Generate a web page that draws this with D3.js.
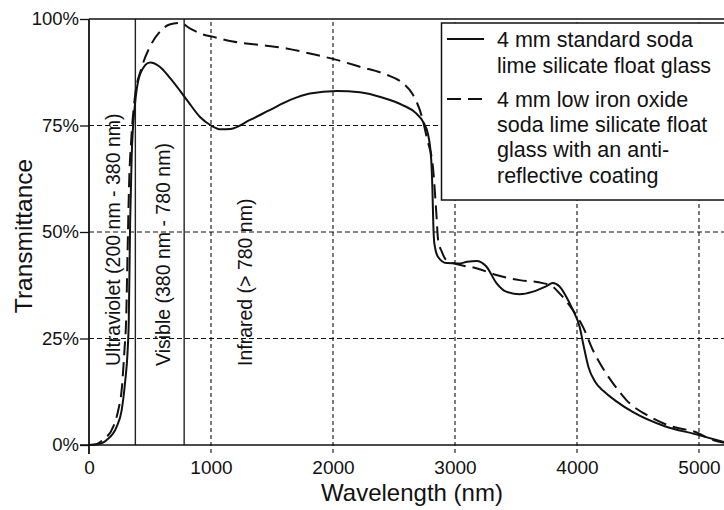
<!DOCTYPE html>
<html>
<head>
<meta charset="utf-8">
<script src="https://cdn.jsdelivr.net/npm/d3@7/dist/d3.min.js"></script>
<style>
  html, body { margin: 0; padding: 0; background: #fff; }
  svg { display: block; font-family: "Liberation Sans", Arial, Helvetica, sans-serif; }
</style>
</head>
<body>
<svg id="chart" width="724" height="510"></svg>
<script>
// ---- data ----
const stdWavelength = [0,60,145,227,268,295,317,326,337,350,377,425,500,580,660,745,820,910,1000,1080,1160,1320,1480,1650,1810,2030,2220,2410,2570,2680,2740,2780,2805,2815,2822,2830,2860,2930,3030,3100,3175,3257,3340,3420,3530,3640,3750,3800,3857,3912,3966,4021,4055,4095,4150,4220,4320,4460,4720,4976,5205];
const stdTransmittance = [0,0.1,1.2,4.3,8.2,14.5,22.3,29,52,68,80,87.5,89.8,88.8,86.3,83.2,80.3,77,75,74.1,74.2,76.3,78.6,81,82.5,83.1,82.8,81.5,79.8,77.9,75.8,72.8,67,60,52,47.5,44.2,42.7,42.6,43,43.2,41.9,38,36,35.4,36,37.3,38,37.2,34.8,31.7,27.8,23.2,18.2,14.8,12.6,10.3,7.7,4.4,2.5,0.7];

const lowIronWavelength = [0,60,115,199,240,268,290,305,316,328,348,377,431,500,580,660,745,827,910,1020,1180,1400,1620,1810,2030,2220,2440,2574,2656,2724,2770,2820,2847,2862,2890,2929,3038,3175,3339,3529,3720,3800,3857,3966,4048,4130,4239,4300,4403,4600,4760,4976,5110,5205];
const lowIronTransmittance = [0,0.2,1.2,4.3,8.2,13,22,30,45,60.6,72.4,81.8,88.5,93.5,97,98.7,99.1,97.8,96.6,95.8,94.7,93.9,93.1,91.9,90.4,88.8,86.9,84.9,82.2,77.5,72,65,54.4,48,45.5,43.4,42.3,41.5,39.9,38.7,38,37.2,35.6,31.7,27.8,22.3,16.8,14.3,10.6,6.6,4.5,3,1.2,0.5];

const xTicks = [0,1000,2000,3000,4000,5000];
const yTicks = [0,25,50,75,100];
const regionBounds = [380,780];
const regionLabels = [
  {text: "Ultraviolet (200 nm - 380 nm)", at: 255},
  {text: "Visible (380 nm - 780 nm)", at: 665},
  {text: "Infrared (> 780 nm)", at: 1335}
];
const legendEntries = [
  {lines: ["4 mm standard soda", "lime silicate float glass"], dash: null},
  {lines: ["4 mm low iron oxide", "soda lime silicate float", "glass with an anti-", "reflective coating"], dash: "14,7"}
];
const xTitle = "Wavelength (nm)";
const yTitle = "Transmittance";

// ---- layout ----
const svg = d3.select("#chart");
const ink = "#111";
const x = d3.scaleLinear().domain([0, 5205]).range([89, 724]);
const y = d3.scaleLinear().domain([0, 100]).range([445, 19]);

// grid
const grid = svg.append("g");
grid.selectAll("line.h").data(yTicks.filter(d => d > 0 && d < 100)).join("line")
  .attr("x1", x(0)).attr("x2", 724)
  .attr("y1", d => y(d)).attr("y2", d => y(d))
  .attr("stroke", ink).attr("stroke-width", 1.1).attr("stroke-dasharray", "5,3");
grid.selectAll("line.v").data(xTicks.filter(d => d > 0)).join("line")
  .attr("x1", d => x(d)).attr("x2", d => x(d))
  .attr("y1", y(0) + 8).attr("y2", y(100))
  .attr("stroke", ink).attr("stroke-width", 1.1).attr("stroke-dasharray", "4,3");

// region boundary lines
svg.append("g").selectAll("line").data(regionBounds).join("line")
  .attr("x1", d => x(d)).attr("x2", d => x(d))
  .attr("y1", y(0)).attr("y2", y(100))
  .attr("stroke", "#222").attr("stroke-width", 1.4);

// axes
const xAxis = d3.axisBottom(x).tickValues(xTicks).tickSize(0).tickPadding(16).tickFormat(d3.format("d"));
const gx = svg.append("g").attr("transform", `translate(0,${y(0)})`).call(xAxis);
gx.select(".domain").remove();
gx.selectAll("text").attr("font-size", 19).attr("fill", ink).attr("font-family", "Liberation Sans, Arial, sans-serif");

const yAxis = d3.axisLeft(y).tickValues(yTicks).tickSize(9).tickPadding(1).tickFormat(d => d + "%");
const gy = svg.append("g").attr("transform", `translate(${x(0)},0)`).call(yAxis);
gy.select(".domain").remove();
gy.selectAll(".tick line").attr("stroke", ink).attr("stroke-width", 1.3);
gy.selectAll("text").attr("font-size", 18.5).attr("fill", ink).attr("font-family", "Liberation Sans, Arial, sans-serif");

// axis lines and top frame
svg.append("line").attr("x1", x(0) - 9).attr("x2", 724).attr("y1", y(0)).attr("y2", y(0))
  .attr("stroke", ink).attr("stroke-width", 1.6);
svg.append("line").attr("x1", x(0)).attr("x2", x(0)).attr("y1", y(100)).attr("y2", y(0) + 9)
  .attr("stroke", ink).attr("stroke-width", 1.8);
svg.append("line").attr("x1", x(0)).attr("x2", 724).attr("y1", y(100)).attr("y2", y(100))
  .attr("stroke", ink).attr("stroke-width", 1.6);

// region labels (rotated)
svg.append("g").selectAll("text").data(regionLabels).join("text")
  .attr("transform", d => `translate(${x(d.at)},366) rotate(-90)`)
  .attr("font-size", 19.5).attr("fill", ink)
  .text(d => d.text);

// curves
const line = d3.line().x(d => x(d[0])).y(d => y(d[1])).curve(d3.curveMonotoneX);
const stdData = stdWavelength.map((w, i) => [w, stdTransmittance[i]]);
const lowData = lowIronWavelength.map((w, i) => [w, lowIronTransmittance[i]]);
svg.append("path").datum(lowData).attr("d", line)
  .attr("fill", "none").attr("stroke", ink).attr("stroke-width", 2).attr("stroke-dasharray", "14,7");
svg.append("path").datum(stdData).attr("d", line)
  .attr("fill", "none").attr("stroke", ink).attr("stroke-width", 2);

// axis titles
svg.append("text").attr("x", 412).attr("y", 501).attr("text-anchor", "middle")
  .attr("font-size", 24).attr("fill", ink).text(xTitle);
svg.append("text").attr("transform", "translate(32,236) rotate(-90)").attr("text-anchor", "middle")
  .attr("font-size", 24.5).attr("fill", ink).text(yTitle);

// legend
const lg = svg.append("g");
lg.append("rect").attr("x", 441.5).attr("y", 23).attr("width", 300).attr("height", 177)
  .attr("fill", "#fff").attr("stroke", ink).attr("stroke-width", 1.5);
const baselines = [[47, 73], [107, 132, 157, 183]];
legendEntries.forEach((e, i) => {
  const b = baselines[i];
  lg.append("line").attr("x1", 447).attr("x2", 484).attr("y1", b[0] - 8).attr("y2", b[0] - 8)
    .attr("stroke", ink).attr("stroke-width", 2)
    .attr("stroke-dasharray", e.dash);
  e.lines.forEach((t, j) => {
    lg.append("text").attr("x", 497).attr("y", b[j]).attr("font-size", 21.5).attr("fill", ink).text(t);
  });
});
</script>
</body>
</html>
